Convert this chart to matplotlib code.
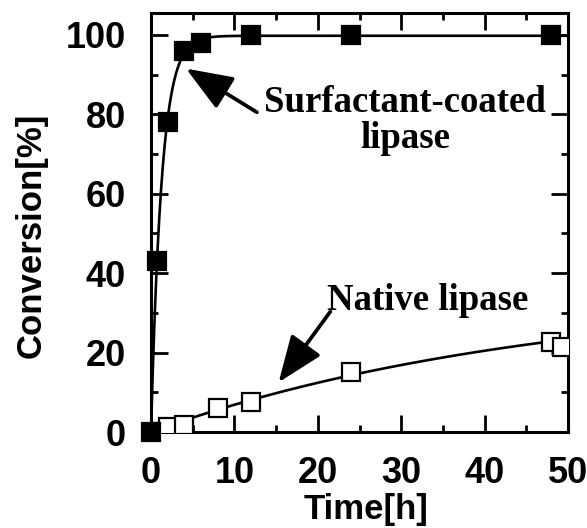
import numpy as np
import matplotlib
matplotlib.use("Agg")
import matplotlib.pyplot as plt
from matplotlib.ticker import MultipleLocator

# data
t_coated = [0, 0.7, 2, 4, 6, 12, 24, 48]
y_coated = [0, 43, 78, 96, 98, 100, 100, 100]
t_native = [0, 2, 4, 8, 12, 24, 48, 49.3]
y_native = [0, 1.2, 1.8, 6, 7.5, 15.1, 22.6, 21.5]

x_ticks = [0, 10, 20, 30, 40, 50]
y_ticks = [0, 20, 40, 60, 80, 100]


def fit_saturation(t, y):
    t = np.asarray(t, float)
    y = np.asarray(y, float)
    best = None
    for k in np.linspace(0.001, 3, 6000):
        g = 1 - np.exp(-k * t)
        A = (g @ y) / (g @ g)
        err = np.sum((A * g - y) ** 2)
        if best is None or err < best[0]:
            best = (err, A, k)
    return best[1], best[2]


fig = plt.figure(figsize=(5.87, 5.28), dpi=100)
ax = fig.add_axes([151 / 587, 96 / 528, 417 / 587, 419 / 528])

tt = np.linspace(0, 50, 1000)
A1, k1 = fit_saturation(t_coated, y_coated)
A2, k2 = fit_saturation(t_native[:-1], y_native[:-1])
ax.plot(tt, A1 * (1 - np.exp(-k1 * tt)), color="black", lw=1.9, zorder=2)
ax.plot(tt, A2 * (1 - np.exp(-k2 * tt)), color="black", lw=1.9, zorder=2)

ax.plot(t_native, y_native, "s", ms=13, mfc="white", mec="black", mew=1.6,
        zorder=3, clip_on=True)
ax.plot(t_coated, y_coated, "s", ms=13, mfc="black", mec="black", mew=1.6,
        zorder=4, clip_on=False)

ax.set_xlim(0, 50)
ax.set_ylim(0, 105.5)
ax.set_xticks(x_ticks)
ax.set_yticks(y_ticks)
ax.xaxis.set_minor_locator(MultipleLocator(5))
ax.yaxis.set_minor_locator(MultipleLocator(10))
ax.tick_params(which="major", direction="in", length=12, width=2,
               top=True, right=True)
ax.tick_params(which="minor", direction="in", length=5, width=2,
               top=True, right=True)
ax.tick_params(axis="x", which="major", pad=17)
ax.tick_params(axis="y", which="major", pad=18)
for s in ax.spines.values():
    s.set_linewidth(2.2)

for lab in ax.get_xticklabels() + ax.get_yticklabels():
    lab.set_fontfamily("Liberation Sans")
    lab.set_fontweight("bold")
    lab.set_fontsize(26)

fig.text(366 / 587, 1 - 510 / 528, "Time[h]", ha="center", va="center",
         fontsize=25, fontweight="bold", family="Liberation Sans")
fig.text(31 / 587, 1 - 235 / 528, "Conversion[%]", ha="center", va="center",
         rotation=90, fontsize=25, fontweight="bold", family="Liberation Sans")

arrow = dict(arrowstyle="-|>,head_length=1.15,head_width=0.45", lw=2.7,
             color="black", mutation_scale=25, shrinkA=0, shrinkB=0)
ax.annotate("", xy=(4.2, 91.5), xytext=(12.7, 80.5), arrowprops=arrow)
ax.annotate("", xy=(15.3, 12.5), xytext=(21.5, 30.3), arrowprops=arrow)

ax.text(30.5, 78.5, "Surfactant-coated\nlipase", ha="center", va="center",
        fontsize=26.5, fontweight="bold", family="Liberation Serif",
        linespacing=1.05)
ax.text(33.2, 33.0, "Native lipase", ha="center", va="center",
        fontsize=26.5, fontweight="bold", family="Liberation Serif")

fig.savefig("out.png", dpi=100)
